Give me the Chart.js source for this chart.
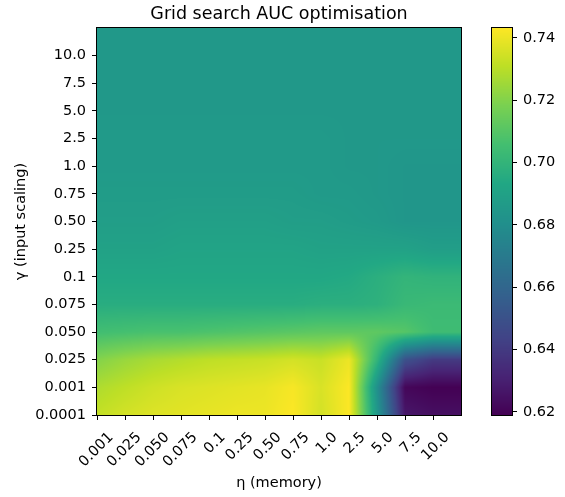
<!DOCTYPE html>
<html>
<head>
<meta charset="utf-8">
<script src="https://cdn.jsdelivr.net/npm/chart.js@4.4.1/dist/chart.umd.min.js"></script>
<style>
  html, body { margin: 0; padding: 0; background: #fff; }
  #wrap { position: relative; width: 565px; height: 497px; }
  #main { position: absolute; left: 0; top: 0; }
  #cbar { position: absolute; left: 470px; top: 0; }
</style>
</head>
<body>
<div id="wrap">
  <canvas id="main" width="565" height="497"></canvas>
  <canvas id="cbar" width="95" height="497"></canvas>
</div>
<script>
// axis categories
const etaLabels = ['0.001', '0.025', '0.050', '0.075', '0.1', '0.25', '0.50', '0.75', '1.0', '2.5', '5.0', '7.5', '10.0'];
const gammaLabels = ['0.0001', '0.001', '0.025', '0.050', '0.075', '0.1', '0.25', '0.50', '0.75', '1.0', '2.5', '5.0', '7.5', '10.0'];

// AUC per gamma row (bottom row first), one value per eta column
const auc = [
    [0.732, 0.735, 0.737, 0.738, 0.739, 0.740, 0.740, 0.743, 0.735, 0.743, 0.685, 0.627, 0.624],
    [0.728, 0.731, 0.734, 0.736, 0.737, 0.738, 0.739, 0.742, 0.736, 0.743, 0.681, 0.621, 0.619],
    [0.720, 0.724, 0.727, 0.729, 0.731, 0.732, 0.733, 0.735, 0.733, 0.740, 0.700, 0.650, 0.640],
    [0.705, 0.706, 0.707, 0.707, 0.708, 0.709, 0.710, 0.711, 0.712, 0.712, 0.712, 0.710, 0.704],
    [0.696, 0.696, 0.696, 0.696, 0.696, 0.696, 0.696, 0.696, 0.697, 0.697, 0.698, 0.702, 0.703],
    [0.693, 0.693, 0.693, 0.693, 0.693, 0.693, 0.693, 0.693, 0.693, 0.694, 0.697, 0.700, 0.699],
    [0.690, 0.690, 0.690, 0.691, 0.691, 0.691, 0.691, 0.691, 0.690, 0.690, 0.690, 0.690, 0.688],
    [0.688, 0.688, 0.688, 0.689, 0.689, 0.689, 0.689, 0.688, 0.688, 0.687, 0.686, 0.684, 0.684],
    [0.687, 0.687, 0.687, 0.687, 0.687, 0.687, 0.687, 0.687, 0.686, 0.686, 0.685, 0.684, 0.684],
    [0.686, 0.686, 0.686, 0.686, 0.686, 0.686, 0.686, 0.686, 0.686, 0.685, 0.685, 0.684, 0.684],
    [0.686, 0.686, 0.686, 0.686, 0.686, 0.686, 0.686, 0.686, 0.686, 0.685, 0.685, 0.685, 0.685],
    [0.685, 0.685, 0.685, 0.685, 0.685, 0.685, 0.685, 0.685, 0.685, 0.685, 0.685, 0.685, 0.685],
    [0.685, 0.685, 0.685, 0.685, 0.685, 0.685, 0.685, 0.685, 0.685, 0.685, 0.685, 0.685, 0.685],
    [0.685, 0.685, 0.685, 0.685, 0.685, 0.685, 0.685, 0.685, 0.685, 0.685, 0.685, 0.685, 0.685]
];

// colour bar range and ticks
const vmin = 0.619;
const vmax = 0.7432;
const cbTicks = [0.62, 0.64, 0.66, 0.68, 0.70, 0.72, 0.74];

const FONT = 'DejaVu Sans';
Chart.defaults.font.family = FONT;
Chart.defaults.color = '#000';

// viridis stops at 0, 0.1, ... 1
const viridisStops = ['#440154', '#482475', '#414487', '#355f8d', '#2a788e', '#21918c',
    '#22a884', '#44bf70', '#7ad151', '#bddf26', '#fde725'].map(h => [
    parseInt(h.slice(1, 3), 16), parseInt(h.slice(3, 5), 16), parseInt(h.slice(5, 7), 16)]);

function viridis(t) {
    t = Math.min(1, Math.max(0, t)) * 10;
    const i = Math.min(9, Math.floor(t));
    const f = t - i;
    const a = viridisStops[i], b = viridisStops[i + 1];
    return [a[0] + (b[0] - a[0]) * f, a[1] + (b[1] - a[1]) * f, a[2] + (b[2] - a[2]) * f];
}

// bilinear sample of the grid, each value sits on its tick
function sample(gx, gy) {
    const nx = etaLabels.length, ny = gammaLabels.length;
    gx = Math.min(nx - 1, Math.max(0, gx));
    gy = Math.min(ny - 1, Math.max(0, gy));
    const i0 = Math.min(nx - 2, Math.floor(gx)), j0 = Math.min(ny - 2, Math.floor(gy));
    const fx = gx - i0, fy = gy - j0;
    const v00 = auc[j0][i0], v10 = auc[j0][i0 + 1], v01 = auc[j0 + 1][i0], v11 = auc[j0 + 1][i0 + 1];
    return (v00 * (1 - fx) + v10 * fx) * (1 - fy) + (v01 * (1 - fx) + v11 * fx) * fy;
}

const heatmap = {
    id: 'heatmap',
    beforeDatasetsDraw(chart) {
        const { ctx, chartArea: a, scales: { x, y } } = chart;
        const w = Math.round(a.right - a.left), h = Math.round(a.bottom - a.top);
        const img = ctx.createImageData(w, h);
        for (let py = 0; py < h; py++) {
            const gy = y.getValueForPixel(a.top + py + 0.5);
            for (let px = 0; px < w; px++) {
                const gx = x.getValueForPixel(a.left + px + 0.5);
                const c = viridis((sample(gx, gy) - vmin) / (vmax - vmin));
                const k = (py * w + px) * 4;
                img.data[k] = c[0]; img.data[k + 1] = c[1]; img.data[k + 2] = c[2]; img.data[k + 3] = 255;
            }
        }
        ctx.putImageData(img, Math.round(a.left), Math.round(a.top));
    },
    afterDraw(chart) {
        const { ctx, chartArea: a } = chart;
        ctx.save();
        ctx.strokeStyle = '#000';
        ctx.lineWidth = 1;
        ctx.strokeRect(Math.round(a.left) - 0.5, Math.round(a.top) - 0.5,
            Math.round(a.right - a.left) + 1, Math.round(a.bottom - a.top) + 1);
        ctx.restore();
    }
};

const colorbar = {
    id: 'colorbar',
    beforeDatasetsDraw(chart) {
        const { ctx, chartArea: a, scales: { y } } = chart;
        for (let py = Math.round(a.top); py < Math.round(a.bottom); py++) {
            const c = viridis((y.getValueForPixel(py + 0.5) - vmin) / (vmax - vmin));
            ctx.fillStyle = `rgb(${c[0] | 0},${c[1] | 0},${c[2] | 0})`;
            ctx.fillRect(a.left, py, a.right - a.left, 1);
        }
    },
    afterDraw: heatmap.afterDraw
};

const tickFont = { family: FONT, size: 14.5 };

new Chart(document.getElementById('main'), {
    type: 'scatter',
    data: { datasets: [{ data: [] }] },
    plugins: [heatmap],
    options: {
        responsive: false,
        animation: false,
        devicePixelRatio: 1,
        layout: { padding: { left: 0, right: 104, top: 0, bottom: 0 } },
        plugins: {
            legend: { display: false },
            tooltip: { enabled: false },
            title: {
                display: true,
                text: 'Grid search AUC optimisation',
                fullSize: false,
                color: '#000',
                font: { family: FONT, size: 17.5, weight: 'normal' },
                padding: { top: 4, bottom: 3 }
            }
        },
        scales: {
            x: {
                type: 'linear',
                position: 'bottom',
                min: 0,
                max: etaLabels.length,
                afterBuildTicks: s => { s.ticks = etaLabels.map((_, i) => ({ value: i })); },
                afterFit: s => { s.height = 82; },
                ticks: {
                    autoSkip: false,
                    minRotation: 45,
                    maxRotation: 45,
                    padding: 9,
                    labelOffset: 14,
                    font: tickFont,
                    callback: v => etaLabels[v]
                },
                grid: { drawOnChartArea: false, tickLength: 5, tickColor: '#000', tickWidth: 1 },
                border: { display: false },
                title: {
                    display: true,
                    text: 'η (memory)',
                    font: tickFont,
                    padding: { top: 0, bottom: 5 }
                }
            },
            y: {
                type: 'linear',
                position: 'left',
                min: 0,
                max: gammaLabels.length,
                afterBuildTicks: s => { s.ticks = gammaLabels.map((_, i) => ({ value: i })); },
                afterFit: s => { s.width = 97; },
                ticks: {
                    autoSkip: false,
                    padding: 6,
                    font: tickFont,
                    callback: v => gammaLabels[v]
                },
                grid: { drawOnChartArea: false, tickLength: 5, tickColor: '#000', tickWidth: 1 },
                border: { display: false },
                title: {
                    display: true,
                    text: 'γ (input scaling)',
                    font: tickFont,
                    padding: { top: 13, bottom: 0 }
                }
            }
        }
    }
});

new Chart(document.getElementById('cbar'), {
    type: 'scatter',
    data: { datasets: [{ data: [] }] },
    plugins: [colorbar],
    options: {
        responsive: false,
        animation: false,
        devicePixelRatio: 1,
        layout: { padding: { left: 22, right: 0, top: 28, bottom: 82 } },
        plugins: { legend: { display: false }, tooltip: { enabled: false } },
        scales: {
            x: { display: false },
            y: {
                type: 'linear',
                position: 'right',
                min: vmin,
                max: vmax,
                afterBuildTicks: s => { s.ticks = cbTicks.map(v => ({ value: v })); },
                afterFit: s => { s.width = 53; },
                ticks: { padding: 6, font: tickFont, callback: v => v.toFixed(2) },
                grid: { drawOnChartArea: false, tickLength: 5, tickColor: '#000', tickWidth: 1 },
                border: { display: false }
            }
        }
    }
});
</script>
</body>
</html>
